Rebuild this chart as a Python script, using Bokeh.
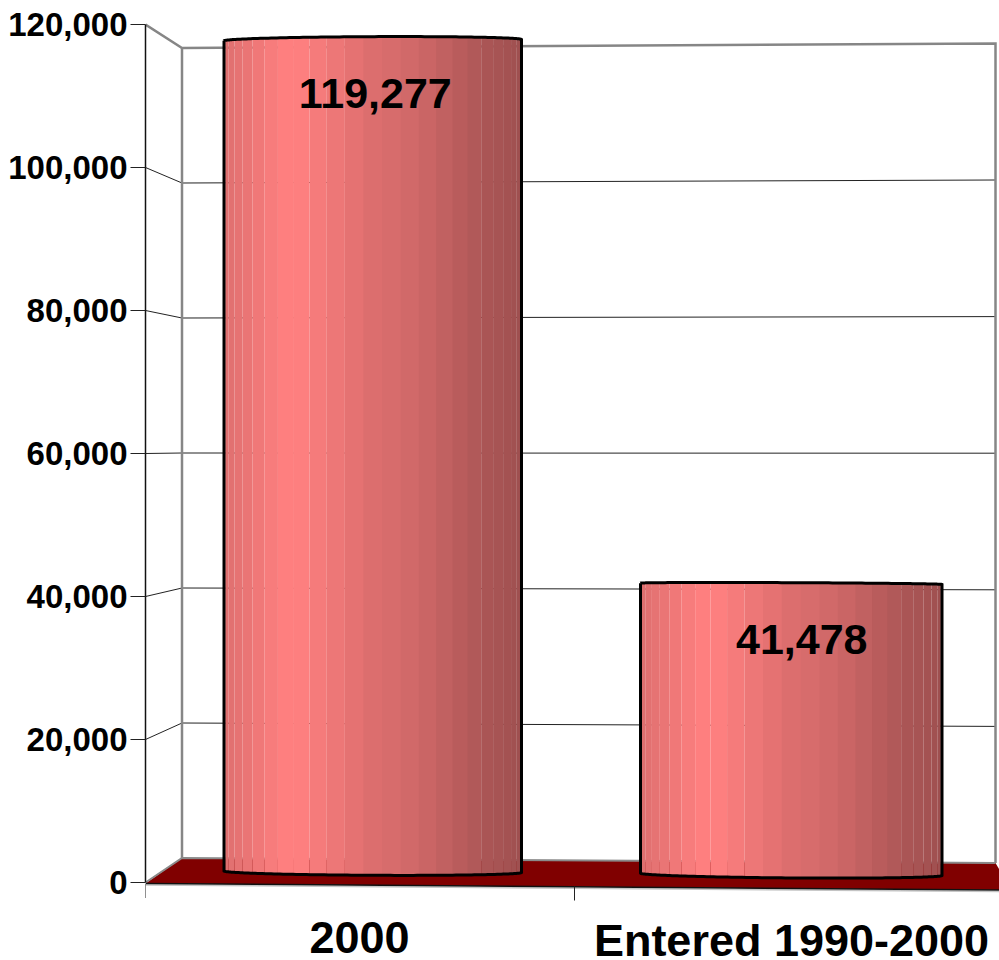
import numpy as np
from bokeh.embed import file_html
from bokeh.models import FixedTicker, NumeralTickFormatter, Range1d
from bokeh.plotting import figure
from bokeh.resources import INLINE
from bokeh.core.properties import value as fv

# ---- data
categories = ["2000", "Entered 1990-2000"]
values = [119277, 41478]
value_labels = ["119,277", "41,478"]
y_ticks = [0, 20000, 40000, 60000, 80000, 100000, 120000]
x_ticks = [0, 1]

# ---- 3D box geometry, in page pixels
X0, X_UNIT = 145.0, 429.0          # front axis x, pixels per category
Y0, Y_UNIT = 882.0, 143.0 / 20000  # front axis y, pixels per unit
BACK_L_X, BACK_R_X = 181.5, 995.0
BACK_L_Y0, BACK_L_K = 857.5, 135.0 / 20000
BACK_R_Y0, BACK_R_K = 862.5, 136.6 / 20000
FLOOR_FRONT_R = (1011.0, 889.5)

BAR_L = [223.5, 640.0]
BAR_R = [521.0, 941.5]
BASE_L = [870.5, 872.7]
BASE_R = [872.0, 875.0]
LABEL_DX = [2.5, 10.5]
LABEL_DY = [53.0, 56.0]
HORIZON, BULGE = 453.0, 0.0085
FACETS = 25
SEAMLESS = (0.44, 0.82)


def sx(px):
    return (np.asarray(px, dtype=float) - X0) / X_UNIT


def sy(py):
    return (Y0 - np.asarray(py, dtype=float)) / Y_UNIT


def bar_k(px):
    return 0.00696 + 8e-8 * (px - 223)


p = figure(width=999, height=960, output_backend="svg", toolbar_location=None,
           x_range=Range1d(0, float(sx(999))), y_range=Range1d(float(sy(960)), float(sy(0))),
           min_border_left=145, min_border_right=0, min_border_top=0, min_border_bottom=0,
           x_axis_location=None, y_axis_location="left",
           background_fill_color="white", border_fill_color="white")
p.outline_line_color = None
p.grid.visible = False

ax = p.yaxis[0]
ax.ticker = FixedTicker(ticks=y_ticks)
ax.formatter = NumeralTickFormatter(format="0,0")
ax.bounds = (0, 120000)
ax.axis_line_color = "#111111"
ax.axis_line_width = 1.5
ax.major_tick_line_color = "#222222"
ax.major_tick_line_width = 1
ax.major_tick_out = 15
ax.major_tick_in = 0
ax.minor_tick_line_color = None
ax.major_label_standoff = 3
ax.major_label_text_font = "Liberation Sans"
ax.major_label_text_font_style = "bold"
ax.major_label_text_font_size = "33px"
ax.major_label_text_color = "black"


def line(xs, ys, color, width):
    p.line(sx(xs), sy(ys), line_color=color, line_width=width, line_join="miter")


# ---- gridlines on the side and back walls
for v in y_ticks[1:-1]:
    yf = Y0 - v * Y_UNIT
    yl = BACK_L_Y0 - v * BACK_L_K
    yr = BACK_R_Y0 - v * BACK_R_K
    line([X0, BACK_L_X, BACK_R_X], [yf, yl, yr], "#222222", 1)

top = y_ticks[-1]
top_f = Y0 - top * Y_UNIT
top_l = BACK_L_Y0 - top * BACK_L_K
top_r = BACK_R_Y0 - top * BACK_R_K

# ---- floor
p.patch(sx([X0, BACK_L_X, BACK_R_X, FLOOR_FRONT_R[0]]),
        sy([Y0 + 1, BACK_L_Y0, BACK_R_Y0, FLOOR_FRONT_R[1]]),
        fill_color="#800000", line_color=None)

# ---- wall outlines
line([X0, BACK_L_X, BACK_R_X, BACK_R_X], [top_f, top_l, top_r, BACK_R_Y0], "#868686", 2.5)
line([BACK_L_X, BACK_L_X], [top_l, BACK_L_Y0], "#868686", 2.5)
line([X0, BACK_L_X, BACK_R_X], [Y0, BACK_L_Y0, BACK_R_Y0], "#8a8a8a", 2)
line([X0, FLOOR_FRONT_R[0]], [Y0 + 2.5, FLOOR_FRONT_R[1] + 1.5], "#c4c4c4", 1.5)
line([X0, FLOOR_FRONT_R[0]], [Y0 + 1, FLOOR_FRONT_R[1]], "#111111", 1.5)

# ---- category ticks below the floor
for t in x_ticks:
    xp = X0 + t * X_UNIT
    yp = Y0 + 1.5 + t * 2.5
    line([xp, xp], [yp, yp + 14], "#222222", 1)

# ---- cylinders
theta_stops = [0.0, 0.64, 0.95, 1.05, 1.29, 1.55, 1.90, 2.14, 2.43, 2.86, 3.1416]
light_stops = [0.85, 0.93, 1.0, 1.0, 0.94, 0.87, 0.81, 0.74, 0.67, 0.63, 0.62]


def shade(t):
    c = np.interp(t, theta_stops, light_stops)
    return "#%02x%02x%02x" % (int(255 * c), int(128 * c), int(128 * c))


for i, v in enumerate(values):
    xl, xr = BAR_L[i], BAR_R[i]
    tl = BASE_L[i] - bar_k(xl) * v
    tr = BASE_R[i] - bar_k(xr) * v

    def edges(theta):
        f = (1 - np.cos(theta)) / 2
        x = xl + (xr - xl) * f
        yt = tl + (tr - tl) * f
        yb = BASE_L[i] + (BASE_R[i] - BASE_L[i]) * f
        yt = yt - abs(yt - HORIZON) * BULGE * np.sin(theta)
        yb = yb + abs(yb - HORIZON) * BULGE * np.sin(theta)
        return x, yt, yb

    th = np.linspace(0, np.pi, FACETS + 1)
    x, yt, yb = edges(th)
    fxs, fys, cols = [], [], []
    for j in range(FACETS):
        frac = (1 - np.cos(th[j + 1])) / 2
        overlap = 1.0 if SEAMLESS[0] < frac < SEAMLESS[1] else 0.0
        fxs.append(sx([x[j], x[j + 1] + overlap, x[j + 1] + overlap, x[j]]).tolist())
        fys.append(sy([yt[j], yt[j + 1], yb[j + 1], yb[j]]).tolist())
        cols.append(shade((th[j] + th[j + 1]) / 2))
    p.patches(fxs, fys, fill_color=cols, line_color=None)

    th2 = np.linspace(0, np.pi, 120)
    x2, yt2, yb2 = edges(th2)
    ox = np.concatenate([x2, x2[::-1], x2[:1]])
    oy = np.concatenate([yt2, yb2[::-1], yt2[:1]])
    line(ox, oy, "black", 3)

    yc = (tl + tr) / 2 + LABEL_DY[i]
    xc = (xl + xr) / 2 + LABEL_DX[i]
    p.text([float(sx(xc))], [float(sy(yc))], text=[value_labels[i]],
           text_font=fv("Liberation Sans"), text_font_style="bold",
           text_font_size="43px", text_color="black",
           text_align="center", text_baseline="middle")

# ---- category labels
cat_x = [359.0, 791.0]
cat_y = [936.5, 939.5]
for name, cx, cy in zip(categories, cat_x, cat_y):
    p.text([float(sx(cx))], [float(sy(cy))], text=[name],
           text_font=fv("Liberation Sans"), text_font_style="bold",
           text_font_size="45px", text_color="black",
           text_align="center", text_baseline="middle")

open("out.html", "w").write(file_html(p, INLINE))
